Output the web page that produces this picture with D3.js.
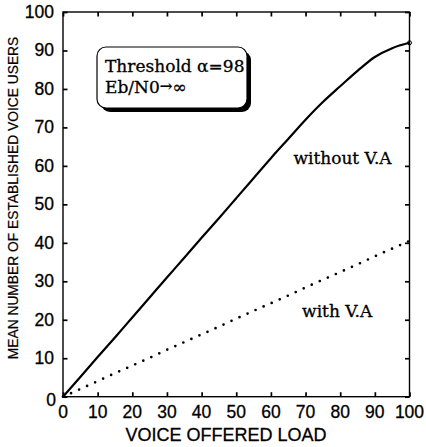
<!DOCTYPE html>
<html>
<head>
<meta charset="utf-8">
<script src="https://cdn.jsdelivr.net/npm/d3@7"></script>
<style>
  body { margin: 0; background: #fff; }
  svg { display: block; }
</style>
</head>
<body>
<svg id="chart"></svg>
<script>
// Values
const loadValues = [0, 5, 10, 15, 20, 25, 30, 35, 40, 45, 50, 55, 60, 65, 70, 75, 80, 85, 90, 95, 100];
const withoutVA = [0, 5.1, 10.3, 15.4, 20.6, 25.8, 31, 36.1, 41.3, 46.4, 51.6, 56.8, 62, 67, 72, 76.6, 80.7, 84.7, 88.3, 90.6, 92];
const withVA = [0, 2, 4.05, 6.1, 8.1, 10.1, 12.2, 14.2, 16.2, 18.2, 20.3, 22.3, 24.3, 26.3, 28.4, 30.4, 32.4, 34.4, 36.5, 38.5, 40.5];
const xTicks = [0, 10, 20, 30, 40, 50, 60, 70, 80, 90, 100];
const yTicks = [0, 10, 20, 30, 40, 50, 60, 70, 80, 90, 100];

// Set up SVG dimensions
const W = 426, H = 447;
const margin = { top: 12, right: 16.5, bottom: 50.3, left: 63 };
const width = W - margin.left - margin.right;
const height = H - margin.top - margin.bottom;

const svg = d3.select("#chart")
    .attr("width", W)
    .attr("height", H);

const g = svg.append("g")
    .attr("transform", "translate(" + margin.left + "," + margin.top + ")");

const x = d3.scaleLinear().domain([0, 100]).range([0, width]);
const y = d3.scaleLinear().domain([0, 100]).range([height, 0]);

const sans = "'Liberation Sans', Arial, sans-serif";
const serif = "'DejaVu Serif', serif";

// Frame
g.append("rect")
    .attr("x", 0).attr("y", 0)
    .attr("width", width).attr("height", height)
    .attr("fill", "none")
    .attr("stroke", "#000")
    .attr("stroke-width", 1.4);

// Inward ticks on all four sides
const tickLen = 4.5;
function noDomain(sel) { sel.select(".domain").remove(); }

g.append("g")
    .attr("transform", "translate(0," + height + ")")
    .call(d3.axisTop(x).tickValues(xTicks).tickSize(tickLen).tickFormat(""))
    .call(noDomain);
g.append("g")
    .call(d3.axisBottom(x).tickValues(xTicks).tickSize(tickLen).tickFormat(""))
    .call(noDomain);
g.append("g")
    .call(d3.axisRight(y).tickValues(yTicks).tickSize(tickLen).tickFormat(""))
    .call(noDomain);
g.append("g")
    .attr("transform", "translate(" + width + ",0)")
    .call(d3.axisLeft(y).tickValues(yTicks).tickSize(tickLen).tickFormat(""))
    .call(noDomain);
g.selectAll(".tick line").attr("stroke", "#000").attr("stroke-width", 1.7);

// Tick labels
g.append("g").selectAll("text")
    .data(xTicks)
    .enter()
    .append("text")
    .attr("x", d => x(d))
    .attr("y", height + 21)
    .attr("text-anchor", "middle")
    .attr("font-family", sans)
    .attr("font-size", 17.5)
    .attr("stroke", "#000")
    .attr("stroke-width", 0.3)
    .text(d => d);

g.append("g").selectAll("text")
    .data(yTicks)
    .enter()
    .append("text")
    .attr("x", d => d === 0 ? -7 : -9)
    .attr("y", d => y(d) + (d === 0 ? 9 : 6))
    .attr("text-anchor", "end")
    .attr("font-family", sans)
    .attr("font-size", 17.5)
    .attr("stroke", "#000")
    .attr("stroke-width", 0.3)
    .text(d => d);

// Axis titles
svg.append("text")
    .attr("x", 226)
    .attr("y", 441)
    .attr("text-anchor", "middle")
    .attr("font-family", sans)
    .attr("font-size", 18)
    .attr("stroke", "#000")
    .attr("stroke-width", 0.3)
    .text("VOICE OFFERED LOAD");

svg.append("text")
    .attr("transform", "translate(18,198) rotate(-90)")
    .attr("text-anchor", "middle")
    .attr("font-family", sans)
    .attr("font-size", 13.8)
    .attr("stroke", "#000")
    .attr("stroke-width", 0.2)
    .text("MEAN NUMBER OF ESTABLISHED VOICE USERS");

// Curves
const line = d3.line()
    .x((d, i) => x(loadValues[i]))
    .y(d => y(d))
    .curve(d3.curveMonotoneX);

g.append("path")
    .datum(withoutVA)
    .attr("d", line)
    .attr("fill", "none")
    .attr("stroke", "#000")
    .attr("stroke-width", 2.2);

g.append("path")
    .datum(withVA)
    .attr("d", line)
    .attr("fill", "none")
    .attr("stroke", "#000")
    .attr("stroke-width", 2.7)
    .attr("stroke-linecap", "round")
    .attr("stroke-dasharray", "0,8.8");

// small end marker on solid curve
g.append("circle")
    .attr("cx", x(100))
    .attr("cy", y(withoutVA[withoutVA.length - 1]))
    .attr("r", 2)
    .attr("fill", "none")
    .attr("stroke", "#000")
    .attr("stroke-width", 1);

// Curve labels
g.append("text")
    .attr("x", x(66.5))
    .attr("y", y(60.4))
    .attr("font-family", serif)
    .attr("font-size", 17)
    .attr("stroke", "#000")
    .attr("stroke-width", 0.3)
    .text("without V.A");

g.append("text")
    .attr("x", x(69))
    .attr("y", y(20.6))
    .attr("font-family", serif)
    .attr("font-size", 17)
    .attr("stroke", "#000")
    .attr("stroke-width", 0.3)
    .text("with V.A");

// Annotation box with shadow
const box = { x: 97, y: 47, w: 150, h: 61, r: 9 };
svg.append("rect")
    .attr("x", box.x + 4).attr("y", box.y + 4)
    .attr("width", box.w).attr("height", box.h)
    .attr("rx", box.r)
    .attr("fill", "#000");
svg.append("rect")
    .attr("x", box.x).attr("y", box.y)
    .attr("width", box.w).attr("height", box.h)
    .attr("rx", box.r)
    .attr("fill", "#fff")
    .attr("stroke", "#000")
    .attr("stroke-width", 1.2);

svg.append("text")
    .attr("x", 105)
    .attr("y", 72)
    .attr("font-family", serif)
    .attr("font-size", 17)
    .attr("stroke", "#000")
    .attr("stroke-width", 0.3)
    .text("Threshold \u03b1=98");

const t2 = svg.append("text")
    .attr("x", 105)
    .attr("y", 93)
    .attr("font-family", serif)
    .attr("font-size", 17)
    .attr("stroke", "#000")
    .attr("stroke-width", 0.3);
t2.append("tspan").text("Eb/N0");
t2.append("tspan").attr("font-size", 15).attr("dy", -2).text("\u2192");
t2.append("tspan").attr("font-size", 17).attr("dy", 2).text("\u221e");
</script>
</body>
</html>
